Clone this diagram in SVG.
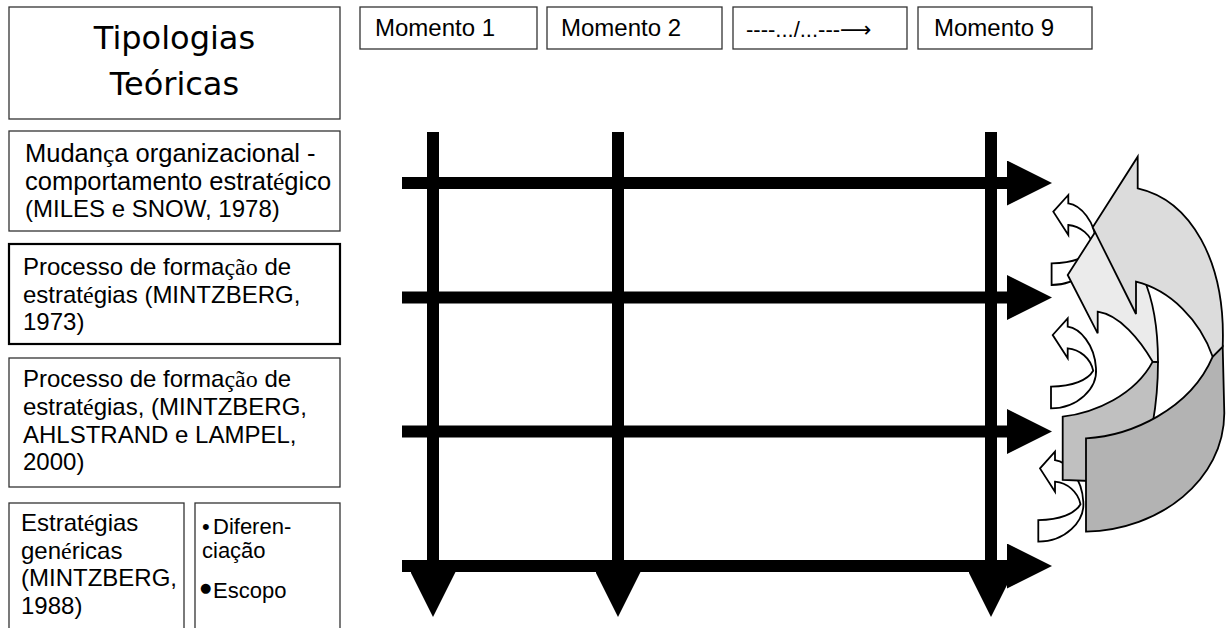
<svg xmlns="http://www.w3.org/2000/svg" width="1226" height="628" viewBox="0 0 1226 628">
  <defs>
    <style>
      .box{fill:#fff;stroke:#333;stroke-width:1.3}
      .boxb{fill:#fff;stroke:#000;stroke-width:2.2}
      .t{font-family:"Liberation Sans",Arial,sans-serif;font-size:24px;fill:#000}
      .s{font-size:22px}
      .l{font-size:25.5px}
      .tm{font-family:"Liberation Serif","Times New Roman",serif}
      .title{font-family:"DejaVu Sans",Tahoma,sans-serif;font-size:32px;fill:#000;text-anchor:middle}
      .axis{stroke:#000;stroke-width:12;fill:none}
      .band{stroke:#000;stroke-width:1.8;stroke-linejoin:miter}
      .curl{fill:#fff;stroke:#000;stroke-width:1.8}
    </style>
    <marker id="head" markerUnits="userSpaceOnUse" viewBox="0 0 45 45" refX="0" refY="22.5" markerWidth="45" markerHeight="45" orient="auto">
      <path d="M0,0 L45,22.5 L0,45 Z" fill="#000"/>
    </marker>
    <!-- small curved arrow, tip at origin -->
    <path id="curl" d="M0,0 L0,8.4 C12,10 27,26 28.3,50 C30,70 10,90 -16.7,90 L-16.7,68.4 C5,68 20,62 25.5,52.5 C23,40 12,31 0,30 L0,40 L-15,16.7 Z"/>
  </defs>

  <rect width="1226" height="628" fill="#fff"/>

  <!-- left column: theoretical typologies -->
  <g id="tipologias">
    <rect class="box" x="9" y="7" width="331" height="112"/>
    <text class="title" x="174.5" y="49">Tipologias</text>
    <text class="title" x="174.5" y="95">Teóricas</text>
  </g>
  <g id="miles-snow">
    <rect class="box" x="9" y="131" width="331" height="100"/>
    <text class="t l" x="25" y="162">Mudan<tspan class="tm">ç</tspan>a organizacional -</text>
    <text class="t l" x="25" y="189.5">comportamento estrat<tspan class="tm">é</tspan>gico</text>
    <text class="t" x="25" y="217">(MILES e SNOW, 1978)</text>
  </g>
  <g id="mintzberg-1973">
    <rect class="boxb" x="9" y="244" width="331" height="100"/>
    <text class="t" x="23" y="275">Processo de forma<tspan class="tm">ção</tspan> de</text>
    <text class="t" x="23" y="302.5">estrat<tspan class="tm">é</tspan>gias (MINTZBERG,</text>
    <text class="t" x="23" y="330">1973)</text>
  </g>
  <g id="mintzberg-2000">
    <rect class="box" x="9" y="358" width="331" height="129"/>
    <text class="t" x="23" y="387">Processo de forma<tspan class="tm">ção</tspan> de</text>
    <text class="t" x="23" y="414.5">estrat<tspan class="tm">é</tspan>gias, (MINTZBERG,</text>
    <text class="t" x="23" y="442.5">AHLSTRAND e LAMPEL,</text>
    <text class="t" x="23" y="470">2000)</text>
  </g>
  <g id="mintzberg-1988">
    <rect class="box" x="9" y="503" width="175" height="140"/>
    <text class="t" x="21" y="531">Estrat<tspan class="tm">é</tspan>gias</text>
    <text class="t" x="21" y="558.5">gen<tspan class="tm">é</tspan>ricas</text>
    <text class="t" x="21" y="586">(MINTZBERG,</text>
    <text class="t" x="21" y="614">1988)</text>
  </g>
  <g id="estrategias-genericas">
    <rect class="box" x="195" y="503" width="145" height="140"/>
    <text class="t s" x="202" y="534">•<tspan x="213">Diferen-</tspan></text>
    <text class="t s" x="202" y="558">ciação</text>
    <text x="200" y="592" font-family="DejaVu Sans, sans-serif" font-size="13">●</text>
    <text class="t s" x="213" y="598">Escopo</text>
  </g>

  <!-- top row: moments -->
  <g id="momento-1">
    <rect class="box" x="360" y="7" width="177" height="42"/>
    <text class="t" x="375" y="36">Momento 1</text>
  </g>
  <g id="momento-2">
    <rect class="box" x="547" y="7" width="175" height="42"/>
    <text class="t" x="561" y="36">Momento 2</text>
  </g>
  <g id="momento-ellipsis">
    <rect class="box" x="733" y="7" width="174" height="42"/>
    <text class="t s" x="746" y="37">----.../...---<tspan font-family="DejaVu Sans, sans-serif" font-size="22">⟶</tspan></text>
  </g>
  <g id="momento-9">
    <rect class="box" x="918" y="7" width="174" height="42"/>
    <text class="t" x="934" y="36">Momento 9</text>
  </g>

  <!-- time grid -->
  <g id="connectors">
    <line class="axis" x1="433" y1="132" x2="433" y2="572" marker-end="url(#head)"/>
    <line class="axis" x1="618" y1="132" x2="618" y2="572" marker-end="url(#head)"/>
    <line class="axis" x1="991" y1="132" x2="991" y2="572" marker-end="url(#head)"/>
    <line class="axis" x1="402" y1="183" x2="1007" y2="183" marker-end="url(#head)"/>
    <line class="axis" x1="402" y1="297.5" x2="1007" y2="297.5" marker-end="url(#head)"/>
    <line class="axis" x1="402" y1="431.5" x2="1007" y2="431.5" marker-end="url(#head)"/>
    <line class="axis" x1="402" y1="566" x2="1007" y2="566" marker-end="url(#head)"/>
  </g>

  <!-- feedback loops -->
  <g id="small-loops">
    <use href="#curl" class="curl" transform="translate(1068.3,195)"/>
    <use href="#curl" class="curl" transform="translate(1067.7,318.3)"/>
    <use href="#curl" class="curl" transform="translate(1055,451.7)"/>
  </g>
  <g id="loop-medium">
    <path class="band" fill="#c0c0c0" d="M1158,362 C1158,385 1156,405 1152.7,423.3 L1140,440 L1090,481 L1062.7,480 L1062.7,416.7 C1095,413 1135,395 1152.7,361.7 Z"/>
    <path class="band" fill="#ebebeb" d="M1108,212 L1108,242 C1135,248 1158,290 1158,362 L1152.7,361.7 C1140,340 1120,315 1097.7,311.7 L1097.7,333.3 L1067.7,275 Z"/>
  </g>
  <g id="loop-large">
    <path class="band" fill="#b3b3b3" d="M1222.7,346.7 L1224.3,413.3 C1224,480 1160,530 1086,531.7 L1086,438.3 C1130,436 1190,410 1212.7,356.7 Z"/>
    <path class="band" fill="#dcdcdc" d="M1137.7,156.7 L1137.7,188.3 C1190,200 1226,260 1222.7,346.7 L1212.7,356.7 C1200,320 1170,290 1136,281.7 L1136,314 L1092.7,227.3 Z"/>
  </g>
</svg>
